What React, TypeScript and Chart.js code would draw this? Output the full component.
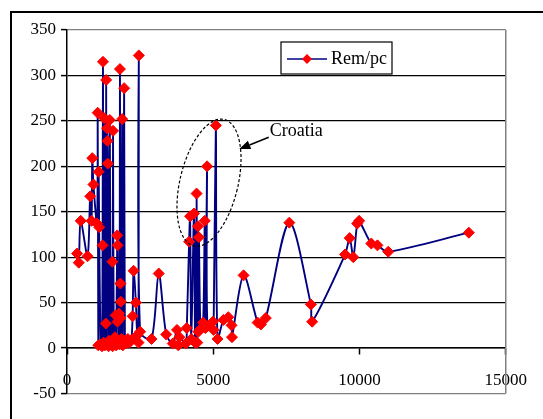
import React, { useEffect, useRef } from 'react';
import { Chart, registerables } from 'chart.js';
Chart.register(...registerables);

const seriesName = 'Rem/pc';
const annotationText = 'Croatia';

const xValues = [
  345, 402, 469, 703, 793, 840, 865, 904, 1027, 1049, 1070, 1082, 1100, 1150, 1195, 1216, 1230, 1250, 1272, 1300,
  1328, 1339, 1350, 1370, 1384, 1395, 1420, 1440, 1462, 1500, 1551, 1560, 1574, 1600, 1640, 1663, 1680, 1719, 1725, 1730,
  1760, 1775, 1797, 1810, 1825, 1831, 1840, 1860, 1886, 1908, 1953, 1980, 2020, 2080, 2133, 2200, 2243, 2277, 2355, 2400,
  2444, 2455, 2500, 2890, 3136, 3392, 3616, 3760, 3806, 3840, 4061, 4095, 4175, 4208, 4250, 4342, 4380, 4430, 4453, 4476,
  4490, 4509, 4565, 4654, 4710, 4731, 4788, 4800, 4989, 5012, 5089, 5146, 5347, 5514, 5625, 5640, 6037, 6518, 6629, 6797,
  7600, 8337, 8381, 9508, 9665, 9787, 9921, 9988, 10403, 10614, 10982, 13738,
];
const yValues = [
  104, 94, 140, 101, 167, 140, 209, 180, 137, 259, 3, 194, 133, 4, 2, 113, 315, 6, 253, 3,
  27, 295, 5, 242, 228, 203, 2, 8, 251, 4, 95, 2, 239, 6, 12, 36, 3, 124, 29, 113,
  8, 38, 4, 307, 71, 33, 51, 10, 252, 3, 286, 8, 5, 10, 6, 9, 35, 85, 50, 14,
  6, 322, 18, 10, 82, 15, 5, 20, 3, 12, 5, 22, 117, 145, 10, 148, 6, 170, 6, 134,
  18, 122, 21, 28, 140, 22, 200, 24, 29, 20, 245, 10, 31, 34, 25, 12, 80, 28, 26, 33,
  138, 48, 29, 103, 121, 100, 137, 140, 115, 113, 106, 127,
];
const xMin = 0;
const xMax = 15000;
const xStep = 5000;
const yMin = -50;
const yMax = 350;
const yStep = 50;

const FONT = "'Liberation Serif', 'Times New Roman', serif";
const LINE = '#000080';
const MARK = '#ff0000';

export default function App() {
  const ref = useRef<HTMLCanvasElement>(null);
  useEffect(() => {
    if (!ref.current) return;
    const overlay = {
      id: 'overlay',
      beforeDraw(chart: any) {
        const { ctx } = chart;
        ctx.save();
        ctx.fillStyle = '#fff';
        ctx.fillRect(0, 0, chart.width, chart.height);
        ctx.strokeStyle = '#000';
        ctx.lineWidth = 2;
        ctx.beginPath();
        ctx.moveTo(11, chart.height);
        ctx.lineTo(11, 12);
        ctx.lineTo(chart.width, 12);
        ctx.stroke();
        ctx.restore();
      },
      afterDraw(chart: any) {
        const { ctx, chartArea } = chart;
        const xs = chart.scales.x;
        const ys = chart.scales.y;
        ctx.save();
        // right plot border
        ctx.strokeStyle = '#808080';
        ctx.lineWidth = 1.5;
        ctx.beginPath();
        ctx.moveTo(chartArea.right, chartArea.top);
        ctx.lineTo(chartArea.right, chartArea.bottom);
        ctx.stroke();
        // dashed ellipse
        const cx = xs.getPixelForValue(4855);
        const cy = ys.getPixelForValue(182);
        ctx.setLineDash([3, 2]);
        ctx.strokeStyle = '#000';
        ctx.lineWidth = 1.2;
        ctx.beginPath();
        ctx.ellipse(cx, cy, 29, 65, (13.5 * Math.PI) / 180, 0, Math.PI * 2);
        ctx.stroke();
        ctx.setLineDash([]);
        // arrow
        const sx = xs.getPixelForValue(6897);
        const sy = ys.getPixelForValue(232);
        const tx = xs.getPixelForValue(5892);
        const ty = ys.getPixelForValue(219);
        const ang = Math.atan2(ty - sy, tx - sx);
        const hl = 11;
        const hw = 4.5;
        const bx = tx - Math.cos(ang) * hl;
        const by = ty - Math.sin(ang) * hl;
        ctx.lineWidth = 1.5;
        ctx.beginPath();
        ctx.moveTo(sx, sy);
        ctx.lineTo(bx, by);
        ctx.stroke();
        ctx.fillStyle = '#000';
        ctx.beginPath();
        ctx.moveTo(tx, ty);
        ctx.lineTo(bx - Math.sin(ang) * hw, by + Math.cos(ang) * hw);
        ctx.lineTo(bx + Math.sin(ang) * hw, by - Math.cos(ang) * hw);
        ctx.closePath();
        ctx.fill();
        // annotation text
        ctx.font = `18px ${FONT}`;
        ctx.textBaseline = 'middle';
        ctx.textAlign = 'left';
        ctx.fillText(annotationText, xs.getPixelForValue(6930), ys.getPixelForValue(239));
        // legend box
        const lx = 281, ly = 42, lw = 111, lh = 32;
        ctx.fillStyle = '#fff';
        ctx.fillRect(lx, ly, lw, lh);
        ctx.strokeStyle = '#000';
        ctx.lineWidth = 1.2;
        ctx.strokeRect(lx, ly, lw, lh);
        const my = ly + lh / 2 + 1;
        ctx.strokeStyle = LINE;
        ctx.lineWidth = 1.5;
        ctx.beginPath();
        ctx.moveTo(lx + 6, my);
        ctx.lineTo(lx + 46, my);
        ctx.stroke();
        ctx.fillStyle = MARK;
        ctx.beginPath();
        ctx.moveTo(lx + 26, my - 5);
        ctx.lineTo(lx + 31, my);
        ctx.lineTo(lx + 26, my + 5);
        ctx.lineTo(lx + 21, my);
        ctx.closePath();
        ctx.fill();
        ctx.fillStyle = '#000';
        ctx.font = `18px ${FONT}`;
        ctx.fillText(seriesName, lx + 50, my);
        ctx.restore();
      },
    };

    const chart = new Chart(ref.current, {
      type: 'scatter',
      data: {
        datasets: [
          {
            label: seriesName,
            data: xValues.map((x, i) => ({ x, y: yValues[i] })),
            showLine: true,
            borderColor: LINE,
            borderWidth: 1.9,
            tension: 0.3,
            pointStyle: 'rectRot',
            pointRadius: 5.5,
            pointBackgroundColor: MARK,
            pointBorderColor: MARK,
            pointBorderWidth: 1,
          } as any,
        ],
      },
      options: {
        responsive: false,
        animation: false,
        layout: { padding: { left: 0, top: 30, right: 28, bottom: 25.5 } },
        plugins: { legend: { display: false }, tooltip: { enabled: false } },
        scales: {
          x: {
            type: 'linear',
            min: xMin,
            max: xMax,
            position: { y: 0 } as any,
            grid: {
              drawOnChartArea: false,
              drawTicks: true,
              tickLength: 6,
              tickColor: '#000',
              tickWidth: 1.5,
            },
            border: { color: '#000', width: 1.5 },
            ticks: {
              stepSize: xStep,
              color: '#000',
              padding: 16,
              maxRotation: 0,
              font: { family: FONT, size: 17 },
              callback: (v: any) => String(v),
            },
          },
          y: {
            type: 'linear',
            min: yMin,
            max: yMax,
            afterFit: (s: any) => {
              s.width = 67;
            },
            grid: {
              color: (c: any) =>
                c.tick && (c.tick.value === yMax || c.tick.value === yMin) ? '#808080' : '#000',
              lineWidth: 1.2,
              tickLength: 6,
              tickColor: '#000',
              tickWidth: 1.5,
            },
            border: { color: '#000', width: 1.5 },
            ticks: {
              stepSize: yStep,
              color: '#000',
              padding: 5,
              font: { family: FONT, size: 17 },
            },
          },
        },
      },
      plugins: [overlay],
    });
    return () => chart.destroy();
  }, []);

  return (
    <div style={{ position: 'fixed', left: 0, top: 0, width: 543, height: 419, overflow: 'hidden', background: '#fff' }}>
      <canvas ref={ref} width={543} height={419} style={{ display: 'block', width: 543, height: 419 }} />
    </div>
  );
}
